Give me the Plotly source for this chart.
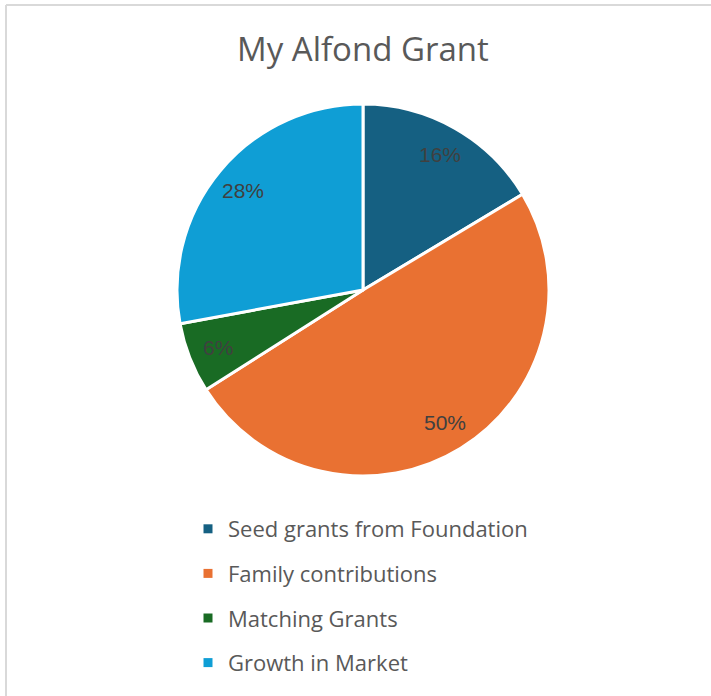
import math
import plotly.graph_objects as go

categories = ["Seed grants from Foundation", "Family contributions", "Matching Grants", "Growth in Market"]
values = [16.4, 49.6, 6.1, 27.9]
colors = ["#156082", "#E97132", "#196B24", "#0F9ED5"]
title_text = "My Alfond Grant"

W, H = 711, 696
cx, cy, R = 363, 290, 186
LABEL_R = 0.84

fig = go.Figure()
fig.add_trace(go.Pie(
    labels=categories, values=values, sort=False, direction="clockwise", rotation=0,
    marker=dict(colors=colors, line=dict(color="white", width=3)),
    textinfo="none", hoverinfo="label+percent", showlegend=False,
    domain=dict(x=[(cx - R) / W, (cx + R) / W], y=[1 - (cy + R) / H, 1 - (cy - R) / H]),
))

# legend entries (one group per category for row spacing)
for name, col in zip(categories, colors):
    fig.add_trace(go.Scatter(
        x=[None], y=[None], mode="markers", name=name, legendgroup=name,
        marker=dict(symbol="square", size=9, color=col),
    ))

# percentage labels computed from the data
total = sum(values)
cum = 0.0
annotations = []
for v in values:
    mid = (cum + v / 2) / total * 2 * math.pi
    px = cx + LABEL_R * R * math.sin(mid)
    py = cy - LABEL_R * R * math.cos(mid)
    annotations.append(dict(
        x=px / W, y=1 - py / H, xref="paper", yref="paper", showarrow=False,
        text=f"{round(v / total * 100)}%", xanchor="center", yanchor="middle",
        font=dict(family="Liberation Sans, Arial", size=21, color="#404040"),
    ))
    cum += v

annotations.append(dict(
    x=363 / W, y=1 - 48 / H, xref="paper", yref="paper", showarrow=False,
    text=title_text, xanchor="center", yanchor="middle",
    font=dict(family="Open Sans", size=33, color="#595959"),
))

shapes = [
    dict(type="line", xref="paper", yref="paper", x0=6 / W, x1=1, y0=1 - 5 / H, y1=1 - 5 / H,
         line=dict(color="#d9d9d9", width=2)),
    dict(type="line", xref="paper", yref="paper", x0=6 / W, x1=6 / W, y0=0, y1=1 - 5 / H,
         line=dict(color="#d9d9d9", width=2)),
]

fig.update_layout(
    width=W, height=H, margin=dict(l=0, r=0, t=0, b=0),
    paper_bgcolor="white", plot_bgcolor="white",
    xaxis=dict(visible=False), yaxis=dict(visible=False),
    annotations=annotations, shapes=shapes,
    legend=dict(
        x=(228 - 40) / W, y=1 - 508 / H, xanchor="left", yanchor="top",
        font=dict(family="Open Sans", size=22, color="#595959"),
        tracegroupgap=13, bgcolor="rgba(0,0,0,0)", traceorder="grouped",
    ),
    showlegend=True,
)

fig.write_html("out.html")
